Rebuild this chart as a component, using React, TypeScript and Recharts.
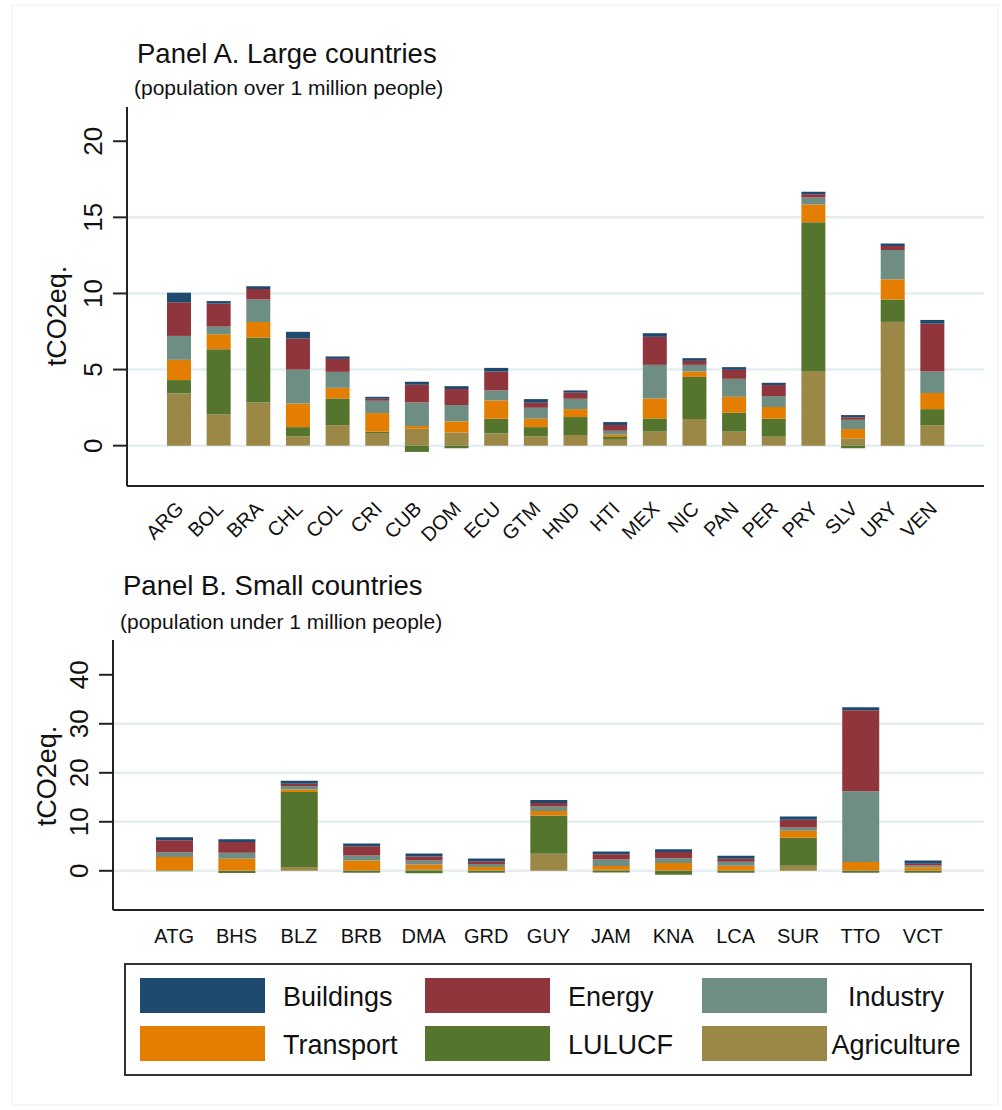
import { Bar, BarChart, CartesianGrid, XAxis, YAxis } from "recharts";

const FONT = '"Liberation Sans", Arial, sans-serif';

// sectors, bottom of the stack first
const SECTORS = ["Agriculture", "LULUCF", "Transport", "Industry", "Energy", "Buildings"];
const COLORS: Record<string, string> = {
  Buildings: "#1e4a6f",
  Energy: "#90353b",
  Industry: "#6e8e84",
  Transport: "#e37e00",
  LULUCF: "#55752f",
  Agriculture: "#9b8847",
};

// Panel A: large countries (tCO2eq. per capita)
const countriesA = ["ARG", "BOL", "BRA", "CHL", "COL", "CRI", "CUB", "DOM", "ECU", "GTM", "HND", "HTI", "MEX", "NIC", "PAN", "PER", "PRY", "SLV", "URY", "VEN"];
const agriA = [3.43, 2.05, 2.84, 0.61, 1.35, 0.83, 1.11, 0.87, 0.81, 0.61, 0.7, 0.39, 0.92, 1.75, 0.92, 0.59, 4.9, 0.48, 8.13, 1.35];
const luluA = [0.88, 4.29, 4.26, 0.61, 1.75, 0.09, -0.41, -0.17, 0.96, 0.61, 1.18, 0.18, 0.87, 2.77, 1.24, 1.18, 9.77, -0.17, 1.47, 1.05];
const transA = [1.33, 0.98, 1.03, 1.55, 0.7, 1.22, 0.18, 0.73, 1.2, 0.55, 0.52, 0.15, 1.31, 0.35, 1.05, 0.77, 1.18, 0.61, 1.33, 1.06];
const indA = [1.57, 0.5, 1.47, 2.23, 1.05, 0.81, 1.55, 1.07, 0.66, 0.72, 0.68, 0.26, 2.21, 0.44, 1.18, 0.72, 0.45, 0.61, 1.92, 1.41];
const enA = [2.21, 1.51, 0.7, 2.04, 0.85, 0.13, 1.16, 1.05, 1.24, 0.33, 0.4, 0.38, 1.84, 0.26, 0.59, 0.72, 0.22, 0.16, 0.26, 3.15];
const bldA = [0.63, 0.17, 0.17, 0.44, 0.16, 0.13, 0.2, 0.19, 0.24, 0.24, 0.15, 0.19, 0.24, 0.18, 0.18, 0.15, 0.16, 0.15, 0.18, 0.24];
const ticksA = [0, 5, 10, 15, 20];

// Panel B: small countries
const countriesB = ["ATG", "BHS", "BLZ", "BRB", "DMA", "GRD", "GUY", "JAM", "KNA", "LCA", "SUR", "TTO", "VCT"];
const agriB = [0.1, 0.05, 0.75, 0.1, 0.3, 0.1, 3.47, 0.2, 0.1, 0.1, 1.02, 0.1, 0.1];
const luluB = [-0.1, -0.45, 15.35, -0.4, -0.5, -0.4, 7.83, -0.35, -0.8, -0.4, 5.71, -0.4, -0.4];
const transB = [2.7, 2.4, 0.5, 2.0, 1.0, 0.7, 0.88, 0.8, 1.5, 0.95, 1.43, 1.7, 0.6];
const indB = [1.0, 1.22, 0.7, 1.0, 0.8, 0.6, 0.96, 1.3, 0.95, 0.8, 0.69, 14.43, 0.4];
const enB = [2.45, 2.19, 0.47, 1.9, 0.8, 0.55, 0.68, 1.08, 1.3, 0.62, 1.55, 16.53, 0.35];
const bldB = [0.6, 0.6, 0.6, 0.55, 0.65, 0.55, 0.61, 0.55, 0.55, 0.62, 0.7, 0.6, 0.67];
const ticksB = [0, 10, 20, 30, 40];

function buildRows(countries: string[], series: number[][]) {
  return countries.map((c, i) => {
    const row: Record<string, number | string> = { country: c };
    SECTORS.forEach((s, k) => {
      row[s] = series[k][i];
    });
    return row;
  });
}

const rowsA = buildRows(countriesA, [agriA, luluA, transA, indA, enA, bldA]);
const rowsB = buildRows(countriesB, [agriB, luluB, transB, indB, enB, bldB]);

const AXIS = { stroke: "#222", strokeWidth: 2 };
const GRID = "#e5eef0";

const YTick = (props: any) => {
  const { x, y, payload } = props;
  const bx = x - 11;
  return (
    <text x={bx} y={y} transform={`rotate(-90, ${bx}, ${y})`} textAnchor="middle" fontSize={26} fill="#111" fontFamily={FONT}>
      {payload.value}
    </text>
  );
};

const XTickAngled = (props: any) => {
  const { x, y, payload } = props;
  const tx = x + 6;
  const ty = y + 24;
  return (
    <text x={tx} y={ty} transform={`rotate(-45, ${tx}, ${ty})`} textAnchor="end" fontSize={20} fill="#111" fontFamily={FONT}>
      {payload.value}
    </text>
  );
};

const XTickFlat = (props: any) => {
  const { x, y, payload } = props;
  return (
    <text x={x} y={y + 33} textAnchor="middle" fontSize={20} fill="#111" fontFamily={FONT}>
      {payload.value}
    </text>
  );
};

function Panel({
  rows,
  ticks,
  domain,
  barSize,
  pad,
  angled,
  width,
  height,
  margin,
}: {
  rows: Record<string, number | string>[];
  ticks: number[];
  domain: [number, number];
  barSize: number;
  pad: number;
  angled: boolean;
  width: number;
  height: number;
  margin: { top: number; right: number; left: number; bottom: number };
}) {
  return (
    <BarChart width={width} height={height} data={rows} margin={margin} stackOffset="sign" barCategoryGap={0}>
      {/* Stata leaves out the grid line at the top tick */}
      <CartesianGrid vertical={false} stroke={GRID} strokeWidth={2.5} horizontalValues={ticks.slice(0, -1)} />
      <XAxis
        dataKey="country"
        interval={0}
        height={60}
        tickSize={0}
        tickMargin={0}
        axisLine={AXIS}
        tickLine={false}
        padding={{ left: pad, right: pad }}
        tick={angled ? <XTickAngled /> : <XTickFlat />}
      />
      <YAxis
        type="number"
        width={60}
        domain={domain}
        allowDataOverflow
        ticks={ticks}
        tickSize={14}
        tickMargin={0}
        axisLine={AXIS}
        tickLine={AXIS}
        tick={<YTick />}
      />
      {SECTORS.map((s) => (
        <Bar key={s} dataKey={s} stackId="a" fill={COLORS[s]} barSize={barSize} isAnimationActive={false} />
      ))}
    </BarChart>
  );
}

// legend layout: 3 columns x 2 rows as in the figure
const LEGEND_ORDER = ["Buildings", "Energy", "Industry", "Transport", "LULUCF", "Agriculture"];

export default function App() {
  const swatchX = [140, 425, 702];
  const rowY = [978, 1026];
  return (
    <div style={{ position: "absolute", left: 0, top: 0, width: 1002, height: 1110, background: "#fff", fontFamily: FONT }}>
      <div style={{ position: "absolute", left: 0, top: 0 }}>
        <Panel
          rows={rowsA}
          ticks={ticksA}
          domain={[-2.65, 22.25]}
          barSize={24}
          pad={32}
          angled
          width={1002}
          height={560}
          margin={{ top: 107, right: 18, left: 67, bottom: 14 }}
        />
      </div>
      <div style={{ position: "absolute", left: 0, top: 600 }}>
        <Panel
          rows={rowsB}
          ticks={ticksB}
          domain={[-8, 47.1]}
          barSize={37}
          pad={30}
          angled={false}
          width={1002}
          height={370}
          margin={{ top: 40, right: 18, left: 53, bottom: 0 }}
        />
      </div>
      <svg width={1002} height={1110} style={{ position: "absolute", left: 0, top: 0, pointerEvents: "none" }} fontFamily={FONT}>
        <rect x={12} y={5} width={986} height={1100} fill="none" stroke="#f0f0f0" strokeWidth={1} />
        <text x={137} y={63} fontSize={27.5} fill="#111">Panel A. Large countries</text>
        <text x={134} y={95} fontSize={21} fill="#111">(population over 1 million people)</text>
        <text x={66} y={316} fontSize={27} fill="#111" textAnchor="middle" transform="rotate(-90, 66, 316)">tCO2eq.</text>

        <text x={123} y={595} fontSize={27.5} fill="#111">Panel B. Small countries</text>
        <text x={120} y={629} fontSize={21} fill="#111">(population under 1 million people)</text>
        <text x={56} y={776} fontSize={27} fill="#111" textAnchor="middle" transform="rotate(-90, 56, 776)">tCO2eq.</text>

        <rect x={125} y={964} width={846} height={111} fill="#fff" stroke="#333" strokeWidth={2} />
        {LEGEND_ORDER.map((s, i) => {
          const col = i % 3;
          const row = Math.floor(i / 3);
          const y = rowY[row];
          return (
            <g key={s}>
              <rect x={swatchX[col]} y={y} width={125} height={35} fill={COLORS[s]} />
              {col < 2 ? (
                <text x={swatchX[col] + 143} y={y + 28} fontSize={27} fill="#111">{s}</text>
              ) : (
                <text x={896} y={y + 28} fontSize={27} fill="#111" textAnchor="middle">{s}</text>
              )}
            </g>
          );
        })}
      </svg>
    </div>
  );
}
